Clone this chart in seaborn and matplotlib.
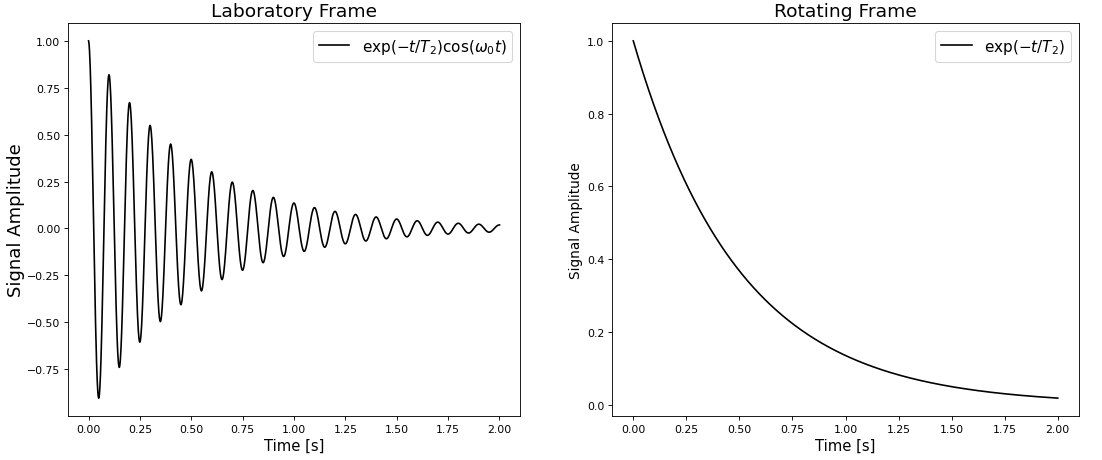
import numpy as np
import pandas as pd
import matplotlib
matplotlib.use('AGG')
import matplotlib.pyplot as plt
import seaborn as sns

# parameters (curves are defined by the legend formulas)
t_start = 0.0
t_stop = 2.0
n_points = 2000
T2 = 0.5          # s, decay constant
f0 = 10.0         # Hz, laboratory-frame oscillation (period 0.1 s)

titles = ['Laboratory Frame', 'Rotating Frame']
labels = [r'$\exp(-t/T_2)\cos(\omega_0 t)$', r'$\exp(-t/T_2)$']

t = np.linspace(t_start, t_stop, n_points)
envelope = np.exp(-t / T2)
lab_signal = envelope * np.cos(2 * np.pi * f0 * t)

df_lab = pd.DataFrame({'t': t, 'signal': lab_signal})
df_rot = pd.DataFrame({'t': t, 'signal': envelope})

dpi = 1102 / 14
fig = plt.figure(figsize=(14, 461 / dpi), dpi=dpi)
ax1 = fig.add_axes([0.0617, 0.0955, 0.4102, 0.8525])
ax2 = fig.add_axes([0.5554, 0.0955, 0.4237, 0.8525])

sns.lineplot(data=df_lab, x='t', y='signal', ax=ax1, color='black',
             linewidth=1.5, label=labels[0])
sns.lineplot(data=df_rot, x='t', y='signal', ax=ax2, color='black',
             linewidth=1.5, label=labels[1])

ax1.set_title(titles[0], fontsize=17)
ax1.set_xlabel('Time [s]', fontsize=13.5)
ax1.set_ylabel('Signal Amplitude', fontsize=16.5, labelpad=2)
ax1.legend(loc='upper right', fontsize=14)

ax2.set_title(titles[1], fontsize=17)
ax2.set_xlabel('Time [s]', fontsize=13.5)
ax2.set_ylabel('Signal Amplitude', fontsize=12.5)
ax2.legend(loc='upper right', fontsize=14)

for ax in (ax1, ax2):
    ax.set_xticks(np.arange(0, 2.01, 0.25))

ax1.set_yticks(np.arange(-0.75, 1.01, 0.25))
ax2.set_yticks(np.arange(0, 1.01, 0.2))

fig.savefig('out.png', dpi=dpi)
plt.close()
